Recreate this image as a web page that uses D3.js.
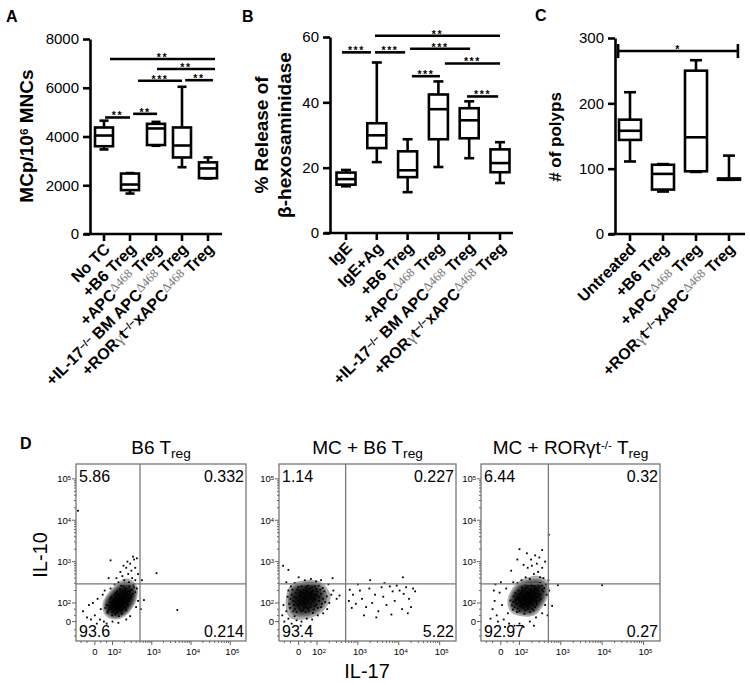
<!DOCTYPE html>
<html><head><meta charset="utf-8">
<script src="https://cdn.jsdelivr.net/npm/d3@7"></script>
<style>body{margin:0;background:#fff}svg{display:block;font-family:"Liberation Sans",Arial,Helvetica,sans-serif}</style>
</head><body><svg id="c" width="750" height="685"></svg>
<script>
// ---------- data ----------
const catsA = ["No TC","+B6 Treg","+APC{g:Δ468} Treg","+IL-17{s:−/−} BM APC{g:Δ468} Treg","+ROR{y:γ}t{s:−/−}xAPC{g:Δ468} Treg"];
// [min, q1, median, q3, max]
const boxA = [[3470,3600,4040,4370,4650],[1660,1800,2030,2480,2500],[3620,3650,4330,4520,4600],[2740,3140,3630,4370,6040],[2280,2290,2690,2940,3140]];
const ticksA = [0,2000,4000,6000,8000];
const sigA = [[0.23,4.27,7180,"**"],[2.04,4.27,6770,"**"],[1.31,3.0,6290,"***"],[3.12,4.19,6310,"**"],[0.04,1.0,4780,"**"],[1.12,2.04,4930,"**"]];

const catsB = ["IgE","IgE+Ag","+B6 Treg","+APC{g:Δ468} Treg","+IL-17{s:−/−} BM APC{g:Δ468} Treg","+ROR{y:γ}t{s:−/−}xAPC{g:Δ468} Treg"];
const boxB = [[14.3,14.8,16.5,18.5,19.3],[21.7,26.0,29.9,33.6,52.2],[12.5,17.1,19.2,25.0,28.7],[20.2,28.7,37.9,42.4,46.4],[22.9,29.0,34.5,38.2,40.3],[15.3,18.6,21.4,25.6,27.8]];
const ticksB = [0,20,40,60];
const sigB = [[-0.13,0.81,55.3,"***"],[0.94,1.92,55.3,"***"],[0.94,5.0,60.4,"**"],[2.08,4.03,56.4,"***"],[3.21,5.0,51.9,"***"],[2.14,3.05,48.0,"***"],[3.93,4.94,41.8,"***"]];

const catsC = ["Untreated","+B6 Treg","+APC{g:Δ468} Treg","+ROR{y:γ}t{s:−/−}xAPC{g:Δ468} Treg"];
const boxC = [[111,144,158,175,217],[65,68,92,106,107],[95,96,148,250,266],[83,83,84,85,120]];
const ticksC = [0,100,200,300];
const sigC = [[-0.36,3.27,280,"*"]];

// flow cytometry (display units: decades, 10^2 -> 2)
const flowTitles = ["B6 T{b:reg}","MC + B6 T{b:reg}","MC + RORγt{s:-/-} T{b:reg}"];
const quadB6 = ["5.86","0.332","93.6","0.214"];
const quadMCB6 = ["1.14","0.227","93.4","5.22"];
const quadMCRor = ["6.44","0.32","92.97","0.27"];
const flowTickVals = [1.55,2,3,4,5];
const flowTickLabels = ["0","10{s:2}","10{s:3}","10{s:4}","10{s:5}"];
const gateX = 2.7, gateY = 2.46;

const ptsB6 = [
[2.20,2.00],[2.15,1.95],[2.28,2.08],[2.05,1.90],[2.35,2.15],[2.10,2.05],[2.25,1.92],[2.18,2.12],[2.32,2.02],[2.02,1.98],
[2.40,2.20],[1.98,1.85],[2.12,1.88],[2.30,2.25],[2.22,1.80],[2.08,2.15],[2.45,2.10],[1.95,2.02],[2.38,1.98],[2.16,2.22],
[2.26,2.30],[2.00,1.78],[1.90,1.92],[2.34,1.88],[2.12,1.98],[2.24,2.16],[2.42,2.28],[2.06,1.82],[2.19,1.90],[2.29,1.96],
[2.50,2.32],[2.14,2.08],[1.88,1.80],[2.36,2.06],[2.04,2.10],[2.27,2.20],[2.11,1.76],[2.47,2.18],[1.96,1.95],[2.21,2.26],
[2.33,2.35],[2.09,1.93],[2.17,1.84],[2.39,2.12],[2.01,2.06],[2.44,2.24],[2.23,2.04],[1.93,1.88],[2.13,2.18],[2.31,1.90],
[2.52,2.22],[2.07,1.72],[2.26,1.86],[1.85,1.95],[2.19,2.34],[2.37,2.27],[2.03,2.00],[2.15,2.02],[2.41,2.04],[1.99,1.70],
[2.55,2.38],[2.28,2.40],[1.91,1.84],[2.10,1.96],[2.20,2.09],[2.35,1.82],[2.05,2.20],[2.46,2.30],[1.82,1.88],[2.58,2.26],
[2.24,1.74],[2.12,2.28],[2.30,2.12],[1.94,2.10],[2.43,2.40],[2.16,1.68],[2.06,1.92],[2.34,2.22],[2.27,2.00],[2.00,1.90],
[2.48,2.14],[1.87,1.76],[2.22,2.42],[2.39,1.94],[2.09,2.24],[2.18,1.98],[2.53,2.44],[2.14,1.80],[1.97,2.14],[2.32,2.30],
[1.25,1.80],[1.40,1.95],[1.55,1.70],[1.62,2.10],[1.70,1.85],[1.50,2.00],[1.35,1.65],[1.75,2.20],[1.68,1.60],[1.78,1.55],
[1.85,1.50],[2.00,1.55],[2.15,1.52],[2.35,1.60],[2.45,1.68],[2.60,1.90],[2.65,2.05],[2.62,2.35],[2.58,2.55],[2.50,2.60],
[2.40,2.70],[2.30,2.55],[2.25,2.65],[2.35,2.85],[2.45,2.95],[2.55,3.05],[2.62,3.08],[2.28,2.90],[2.20,2.75],[2.42,2.50],
[2.15,2.50],[2.05,2.45],[1.95,2.35],[1.80,2.30],[2.48,2.78],[2.38,3.00],[2.58,2.85],[1.90,2.60],[2.10,2.60],[2.65,2.70],
[1.60,1.50],[1.45,1.60],[2.75,2.55],[2.72,1.85],[3.12,2.72],[3.65,1.83],[1.12,4.23],[2.80,2.07],[1.95,3.03],[2.52,3.12]];

const ptsMCB6 = [
[1.72,2.10],[1.65,2.05],[1.80,2.15],[1.58,2.00],[1.88,2.20],[1.70,1.95],[1.95,2.08],[1.50,2.12],[1.62,2.22],[1.85,1.98],
[1.75,2.28],[1.42,2.05],[2.00,2.18],[1.68,1.88],[1.90,2.30],[1.55,1.92],[1.78,2.02],[2.05,2.05],[1.48,2.25],[1.82,2.35],
[1.60,2.15],[1.98,1.95],[1.35,2.10],[1.73,2.38],[2.10,2.22],[1.66,1.82],[1.92,2.12],[1.52,2.32],[1.84,1.90],[1.44,1.95],
[2.08,2.32],[1.76,2.20],[1.58,1.85],[1.95,2.40],[1.38,2.20],[1.70,2.00],[2.02,1.88],[1.62,2.40],[1.86,2.26],[1.46,1.85],
[2.15,2.10],[1.54,2.06],[1.80,1.80],[1.68,2.32],[2.12,1.98],[1.32,1.98],[1.90,2.05],[1.74,1.90],[1.56,2.18],[2.00,2.28],
[1.40,2.32],[1.64,1.96],[1.96,2.20],[1.78,2.42],[2.18,2.28],[1.50,1.78],[1.86,2.10],[1.60,2.28],[1.28,2.15],[2.06,2.14],
[1.72,1.78],[1.44,2.14],[1.92,1.84],[1.66,2.12],[2.20,2.02],[1.34,1.88],[1.82,2.24],[1.54,2.38],[1.98,2.34],[1.70,2.18],
[1.48,2.02],[2.10,1.90],[1.76,2.06],[1.62,1.80],[1.88,2.38],[1.30,2.30],[2.04,2.42],[1.58,2.26],[1.94,1.92],[1.42,1.80],
[1.84,2.16],[1.68,2.24],[2.14,2.36],[1.52,1.96],[1.78,1.86],[1.36,2.40],[2.24,2.16],[1.64,2.04],[1.90,1.76],[1.74,2.30],
[1.15,1.70],[1.20,1.55],[1.25,1.80],[1.18,1.95],[1.30,1.62],[1.38,1.50],[1.50,1.58],[1.62,1.55],[1.45,1.68],[1.75,1.62],
[1.88,1.60],[2.02,1.70],[2.15,1.75],[2.25,1.85],[2.30,2.00],[2.35,2.20],[2.28,2.45],[2.40,2.30],[2.48,2.10],[2.55,2.18],
[1.17,2.90],[1.30,2.80],[1.55,2.62],[1.70,2.55],[1.85,2.58],[1.98,2.52],[2.38,2.60],[1.25,2.50],[1.45,2.48],[2.10,2.55],
[1.60,1.45],[1.80,1.40],
[2.78,2.05],[2.88,2.20],[2.95,1.98],[3.05,2.30],[3.10,2.10],[3.20,1.90],[3.28,2.35],[3.35,2.00],[3.42,2.20],[3.50,1.80],
[3.58,2.38],[3.62,2.15],[3.70,1.95],[3.78,2.40],[3.85,2.28],[3.90,2.05],[3.95,2.42],[4.02,2.30],[4.08,1.85],[4.12,2.22],
[4.18,2.38],[4.25,2.10],[4.30,1.90],[4.35,2.35],[3.15,1.70],[3.45,1.65],[3.82,1.72],[4.22,1.75],[2.85,1.88],[3.00,2.45],
[3.65,2.48],[4.10,2.62],[3.30,2.55],[2.80,2.32],[4.40,2.28]];

const ptsMCRor = [
[2.20,2.10],[2.12,2.02],[2.30,2.18],[2.05,1.95],[2.38,2.25],[2.15,2.15],[2.26,2.00],[1.98,2.08],[2.34,2.08],[2.08,1.88],
[2.44,2.30],[1.92,1.98],[2.18,1.92],[2.28,2.32],[2.02,2.20],[2.40,2.15],[2.10,2.28],[1.88,1.90],[2.32,1.95],[2.22,2.22],
[2.48,2.38],[1.95,2.14],[2.14,1.82],[2.36,2.40],[2.04,2.04],[2.24,2.06],[2.50,2.20],[1.85,2.02],[2.16,2.36],[2.42,2.02],
[2.00,1.80],[2.28,2.12],[2.08,2.18],[2.55,2.32],[1.90,2.24],[2.34,2.28],[2.12,1.96],[2.46,2.44],[2.20,1.86],[1.96,1.86],
[2.38,1.90],[2.06,2.30],[2.30,2.42],[1.82,1.94],[2.52,2.10],[2.18,2.26],[2.00,2.12],[2.26,1.78],[2.44,2.22],[2.10,2.08],
[1.86,2.16],[2.36,2.14],[2.14,2.44],[2.58,2.28],[1.94,1.78],[2.22,1.98],[2.40,2.36],[2.02,1.92],[2.32,2.04],[2.16,2.10],
[1.78,2.06],[2.48,2.06],[2.06,2.38],[2.26,2.26],[1.98,2.30],[2.42,1.96],[2.12,1.74],[2.54,2.42],[2.20,2.40],[1.90,2.06],
[2.30,1.86],[2.04,2.24],[2.38,2.32],[2.08,1.98],[2.60,2.36],[1.84,1.84],[2.24,2.16],[2.46,2.14],[2.14,2.20],[2.34,1.82],
[1.96,2.20],[2.28,2.46],[2.18,2.04],[2.50,2.48],[2.02,2.02],[2.40,2.06],[2.10,2.34],[2.22,1.90],[1.92,2.10],[2.36,2.20],
[1.35,1.85],[1.40,2.05],[1.45,1.70],[1.52,2.25],[1.58,1.95],[1.62,1.60],[1.68,2.35],[1.72,1.75],[1.48,1.55],[1.38,2.30],
[1.75,1.50],[1.88,1.45],[2.00,1.50],[2.10,1.42],[2.25,1.55],[2.40,1.65],[2.55,1.75],[2.62,1.95],[2.66,2.20],[2.64,2.45],
[2.58,2.60],[2.50,2.62],[2.45,2.75],[2.35,2.70],[2.25,2.58],[2.15,2.62],[2.05,2.55],[1.95,2.48],[1.85,2.50],[2.30,2.90],
[2.42,2.95],[2.55,2.85],[2.20,2.85],[2.10,2.92],[2.48,3.10],[2.38,3.15],[2.28,3.05],[2.18,3.20],[2.55,3.28],[2.00,3.30],
[1.95,3.05],[2.62,3.00],[1.80,2.78],[2.70,2.55],[2.72,2.30],[2.93,2.43],[4.00,2.43],[2.79,1.93],[2.71,3.65],[1.30,1.62],
[1.65,1.42],[2.35,1.45],[1.55,2.50],[2.68,1.70],[1.42,2.45]];

// ---------- helpers ----------
const svg = d3.select("#c");
function rich(sel, str) {
  const re = /\{([sgyb]):([^}]*)\}/g; let last = 0, m;
  while ((m = re.exec(str))) {
    if (m.index > last) sel.append("tspan").text(str.slice(last, m.index));
    const t = sel.append("tspan").text(m[2]);
    if (m[1] === "s") t.attr("baseline-shift", "38%").attr("font-size", "62%");
    if (m[1] === "g") t.attr("baseline-shift", "30%").attr("font-size", "78%").attr("font-family", "Liberation Serif, Times New Roman, serif").attr("font-weight", "normal").attr("fill", "#7a7a7a");
    if (m[1] === "y") t.attr("font-family", "Liberation Serif, Times New Roman, serif").attr("font-weight", "normal").attr("fill", "#7a7a7a");
    if (m[1] === "b") t.attr("baseline-shift", "-28%").attr("font-size", "72%");
    last = re.lastIndex;
  }
  if (last < str.length) sel.append("tspan").text(str.slice(last));
}

function boxPanel(cfg) {
  const g = svg.append("g");
  const x = d3.scalePoint().domain(cfg.cats).range(cfg.xRange);
  const xi = d3.scaleLinear().domain([0, cfg.cats.length - 1]).range(cfg.xRange);
  const y = d3.scaleLinear().domain(cfg.yDomain).range(cfg.yRange);
  const sw = 2.6;
  // y axis
  const ya = g.append("g").attr("transform", `translate(${cfg.axisX},0)`)
    .call(d3.axisLeft(y).tickValues(cfg.yTicks).tickFormat(d3.format("d")).tickSize(7).tickPadding(4).tickSizeOuter(0));
  ya.select(".domain").attr("stroke-width", sw);
  ya.selectAll(".tick line").attr("stroke-width", sw);
  ya.selectAll(".tick text").attr("font-size", 15).attr("font-family", "Liberation Sans, Arial, sans-serif");
  // x axis
  const xa = g.append("g").attr("transform", `translate(0,${cfg.yRange[0]})`);
  xa.append("line").attr("x1", cfg.axisX - 6).attr("x2", cfg.axisEnd).attr("stroke", "#000").attr("stroke-width", sw);
  xa.selectAll("line.t").data(cfg.cats).join("line").attr("class", "t")
    .attr("x1", d => x(d)).attr("x2", d => x(d)).attr("y1", 0).attr("y2", 7)
    .attr("stroke", "#000").attr("stroke-width", sw);
  xa.selectAll("text").data(cfg.cats).join("text")
    .attr("transform", d => `translate(${x(d) + 7},${16}) rotate(-45)`)
    .attr("text-anchor", "end").attr("font-size", 16).attr("font-weight", "bold")
    .each(function (d) { rich(d3.select(this), d); });
  // boxes
  const bw = cfg.boxW, cw = cfg.capW;
  const bg = g.selectAll("g.box").data(cfg.stats).join("g").attr("class", "box")
    .attr("transform", (d, i) => `translate(${x(cfg.cats[i])},0)`)
    .attr("stroke", "#000").attr("stroke-width", sw).attr("fill", "none");
  bg.append("line").attr("y1", d => y(d[0])).attr("y2", d => y(d[1]));
  bg.append("line").attr("y1", d => y(d[3])).attr("y2", d => y(d[4]));
  bg.append("line").attr("x1", -cw / 2).attr("x2", cw / 2).attr("y1", d => y(d[0])).attr("y2", d => y(d[0]));
  bg.append("line").attr("x1", -cw / 2).attr("x2", cw / 2).attr("y1", d => y(d[4])).attr("y2", d => y(d[4]));
  bg.append("rect").attr("x", -bw / 2).attr("width", bw).attr("y", d => y(d[3])).attr("height", d => Math.max(0.5, y(d[1]) - y(d[3]))).attr("fill", "#fff");
  bg.append("line").attr("x1", -bw / 2).attr("x2", bw / 2).attr("y1", d => y(d[2])).attr("y2", d => y(d[2]));
  // significance
  const sg = g.selectAll("g.sig").data(cfg.sig).join("g").attr("class", "sig");
  sg.append("line").attr("x1", d => xi(d[0])).attr("x2", d => xi(d[1])).attr("y1", d => y(d[2])).attr("y2", d => y(d[2]))
    .attr("stroke", "#000").attr("stroke-width", sw);
  if (cfg.sigCaps) {
    sg.append("line").attr("x1", d => xi(d[0])).attr("x2", d => xi(d[0])).attr("y1", d => y(d[2]) - 7).attr("y2", d => y(d[2]) + 7).attr("stroke", "#000").attr("stroke-width", sw);
    sg.append("line").attr("x1", d => xi(d[1])).attr("x2", d => xi(d[1])).attr("y1", d => y(d[2]) - 7).attr("y2", d => y(d[2]) + 7).attr("stroke", "#000").attr("stroke-width", sw);
  }
  sg.append("text").attr("x", d => (xi(d[0]) + xi(d[1])) / 2).attr("y", d => y(d[2]) + 2)
    .attr("text-anchor", "middle").attr("font-size", 10.5).attr("letter-spacing", 1.6).attr("font-weight", "bold").text(d => d[3]);
  // y title
  const tt = g.append("text").attr("transform", `translate(${cfg.titleX},${cfg.titleY}) rotate(-90)`)
    .attr("text-anchor", "middle").attr("font-size", cfg.titleSize).attr("font-weight", "bold");
  cfg.title.forEach((t, i) => {
    const ts = tt.append("tspan").attr("x", 0).attr("dy", i === 0 ? 0 : "1.2em");
    rich(ts, t);
  });
  // letter
  g.append("text").attr("x", cfg.letter[1]).attr("y", cfg.letter[2]).attr("font-size", 16).attr("font-weight", "bold").text(cfg.letter[0]);
}

boxPanel({cats: catsA, stats: boxA, yDomain: [0, 8000], yTicks: ticksA, xRange: [104, 208], yRange: [234, 39],
  axisX: 90, axisEnd: 222, boxW: 18, capW: 9, sig: sigA, title: ["MCp/10{s:6} MNCs"], titleX: 33, titleY: 136, titleSize: 19, letter: ["A", 6, 22]});
boxPanel({cats: catsB, stats: boxB, yDomain: [0, 60], yTicks: ticksB, xRange: [346, 500], yRange: [233, 37],
  axisX: 330, axisEnd: 513, boxW: 19, capW: 10, sig: sigB, title: ["% Release of", "β-hexosaminidase"], titleX: 268, titleY: 135, titleSize: 19, letter: ["B", 242, 22]});
boxPanel({cats: catsC, stats: boxC, yDomain: [0, 300], yTicks: ticksC, xRange: [630, 729], yRange: [234, 38],
  axisX: 615, axisEnd: 745, boxW: 22, capW: 12, sig: sigC, sigCaps: true, title: ["# of polyps"], titleX: 561, titleY: 137, titleSize: 17, letter: ["C", 535, 21]});

// ---------- flow panels ----------
const flowFrames = [{l: 76, r: 246}, {l: 279, r: 456}, {l: 481, r: 660}];
const flowTop = 464, flowBottom = 641;
const flowPts = [ptsB6, ptsMCB6, ptsMCRor];
const flowQuads = [quadB6, quadMCB6, quadMCRor];
const xDom = [1.07, 5.4], yDom = [1.08, 5.36];
const minorVals = [];
[2, 3, 4].forEach(dd => d3.range(2, 10).forEach(k => minorVals.push(dd + Math.log10(k))));
[1.2, 1.35, 1.7, 1.85].forEach(v => minorVals.push(v));

flowFrames.forEach((f, i) => {
  const g = svg.append("g");
  const xs = d3.scaleLinear().domain(xDom).range([f.l, f.r]);
  const ys = d3.scaleLinear().domain(yDom).range([flowBottom, flowTop]);
  const w = f.r - f.l, h = flowBottom - flowTop;
  // density core
  const dens = d3.contourDensity().x(d => xs(d[0]) - f.l).y(d => ys(d[1]) - flowTop)
    .size([w, h]).bandwidth(3.6).thresholds(14)(flowPts[i]);
  const maxV = d3.max(dens, c => c.value);
  g.append("g").attr("transform", `translate(${f.l},${flowTop})`)
    .selectAll("path").data(dens.filter(c => c.value > maxV * 0.2)).join("path")
    .attr("d", d3.geoPath()).attr("fill", "#000").attr("fill-opacity", 0.32);
  // dots
  g.selectAll("rect.pt").data(flowPts[i]).join("rect").attr("class", "pt")
    .attr("x", d => xs(d[0]) - 0.9).attr("y", d => ys(d[1]) - 0.9).attr("width", 1.8).attr("height", 1.8).attr("fill", "#000");
  // gates
  g.append("line").attr("x1", xs(gateX)).attr("x2", xs(gateX)).attr("y1", flowTop).attr("y2", flowBottom).attr("stroke", "#777").attr("stroke-width", 1.3);
  g.append("line").attr("x1", f.l).attr("x2", f.r).attr("y1", ys(gateY)).attr("y2", ys(gateY)).attr("stroke", "#777").attr("stroke-width", 1.3);
  // frame
  g.append("rect").attr("x", f.l).attr("y", flowTop).attr("width", w).attr("height", h).attr("fill", "none").attr("stroke", "#777").attr("stroke-width", 1.3);
  // ticks
  const tk = g.append("g").attr("stroke", "#666").attr("stroke-width", 1);
  tk.selectAll("line.mx").data(flowTickVals).join("line").attr("class", "mx").attr("x1", d => xs(d)).attr("x2", d => xs(d)).attr("y1", flowBottom).attr("y2", flowBottom + 4);
  tk.selectAll("line.nx").data(minorVals).join("line").attr("class", "nx").attr("x1", d => xs(d)).attr("x2", d => xs(d)).attr("y1", flowBottom).attr("y2", flowBottom + 2);
  tk.selectAll("line.my").data(flowTickVals).join("line").attr("class", "my").attr("x1", f.l - 4).attr("x2", f.l).attr("y1", d => ys(d)).attr("y2", d => ys(d));
  tk.selectAll("line.ny").data(minorVals).join("line").attr("class", "ny").attr("x1", f.l - 2).attr("x2", f.l).attr("y1", d => ys(d)).attr("y2", d => ys(d));
  g.selectAll("text.xt").data(flowTickVals).join("text").attr("class", "xt")
    .attr("x", (d, j) => xs(d) + (j === 0 ? 0 : 2)).attr("y", flowBottom + 14).attr("text-anchor", "middle").attr("font-size", 9.5)
    .each(function (d, j) { rich(d3.select(this), flowTickLabels[j]); });
  g.selectAll("text.yt").data(flowTickVals).join("text").attr("class", "yt")
    .attr("x", f.l - 5).attr("y", d => ys(d)).attr("dy", "0.35em").attr("text-anchor", "end").attr("font-size", 9.5)
    .each(function (d, j) { rich(d3.select(this), flowTickLabels[j]); });
  // quadrant numbers
  const q = flowQuads[i];
  const qf = 16;
  g.append("text").attr("x", f.l + 3).attr("y", flowTop + 18).attr("font-size", qf).text(q[0]);
  g.append("text").attr("x", f.r - 2).attr("y", flowTop + 18).attr("font-size", qf).attr("text-anchor", "end").text(q[1]);
  g.append("text").attr("x", f.l + 3).attr("y", flowBottom - 4).attr("font-size", qf).text(q[2]);
  g.append("text").attr("x", f.r - 2).attr("y", flowBottom - 4).attr("font-size", qf).attr("text-anchor", "end").text(q[3]);
  // title
  const t = g.append("text").attr("x", (f.l + f.r) / 2).attr("y", 454).attr("text-anchor", "middle").attr("font-size", 19);
  rich(t, flowTitles[i]);
});
svg.append("text").attr("transform", "translate(47,555) rotate(-90)").attr("text-anchor", "middle").attr("font-size", 20).text("IL-10");
svg.append("text").attr("x", 367).attr("y", 678).attr("text-anchor", "middle").attr("font-size", 20).text("IL-17");
svg.append("text").attr("x", 20).attr("y", 449).attr("font-size", 16).attr("font-weight", "bold").text("D");
</script></body></html>
